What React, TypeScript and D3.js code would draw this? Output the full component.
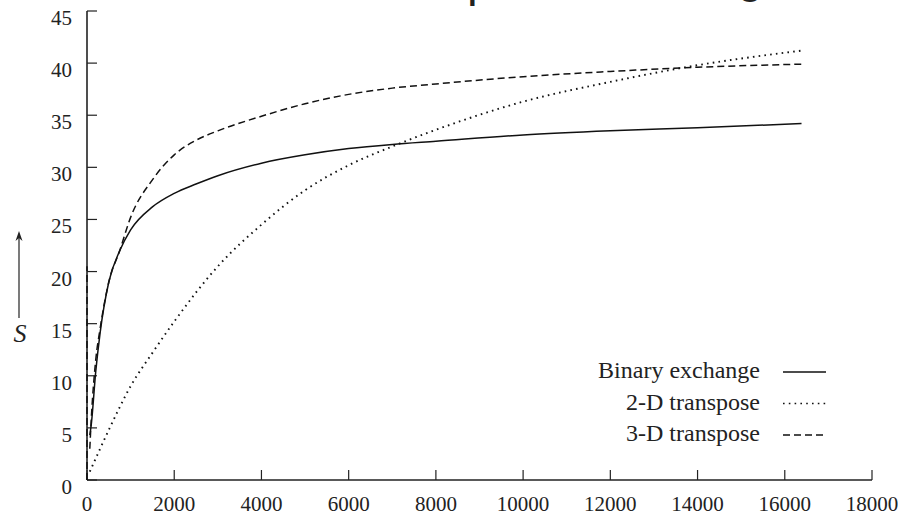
import React from "react";
import * as d3 from "d3";

const xTicks = [0, 2000, 4000, 6000, 8000, 10000, 12000, 14000, 16000, 18000];
const yTicks = [0, 5, 10, 15, 20, 25, 30, 35, 40, 45];

const binaryX = [64, 100, 200, 300, 500, 750, 1000, 1500, 2000, 2500, 3000, 4000, 5000, 6000, 7000, 8000, 10000, 12000, 14000, 16384];
const binaryY = [4.3, 5.4, 10.4, 14.1, 19.0, 22.0, 24.0, 26.2, 27.5, 28.4, 29.2, 30.4, 31.2, 31.8, 32.2, 32.5, 33.1, 33.5, 33.8, 34.2];

const twoDX = [64, 500, 1000, 1500, 2000, 3000, 4000, 5000, 6000, 7000, 8000, 10000, 12000, 14000, 16384];
const twoDY = [0.8, 4.8, 9.0, 12.2, 15.2, 20.5, 24.5, 27.8, 30.2, 32.0, 33.6, 36.3, 38.2, 39.8, 41.2];

const threeDX = [64, 100, 200, 300, 500, 750, 1000, 1500, 2000, 2500, 3000, 4000, 5000, 6000, 7000, 8000, 10000, 12000, 14000, 16384];
const threeDY = [3.0, 6.0, 11.5, 14.5, 19.0, 22.0, 25.2, 28.8, 31.2, 32.6, 33.5, 34.9, 36.1, 37.0, 37.6, 38.0, 38.7, 39.2, 39.6, 39.9];
const threeDStubX = [0, 0];
const threeDStubY = [0, 20.5];

const legendLabels = ["Binary exchange", "2-D transpose", "3-D transpose"];
const dashes = ["none", "1.6 4.2", "7 4"];

const serif = "'Liberation Serif', 'Times New Roman', serif";

export default function App() {
  const x = d3.scaleLinear().domain([0, 18000]).range([87, 872]);
  const y = d3.scaleLinear().domain([0, 45]).range([480, 11]);
  const line = d3
    .line<[number, number]>()
    .x((d) => x(d[0]))
    .y((d) => y(d[1]))
    .curve(d3.curveMonotoneX);
  const lin = d3
    .line<[number, number]>()
    .x((d) => x(d[0]))
    .y((d) => y(d[1]));

  const zip = (a: number[], b: number[]) => a.map((v, i) => [v, b[i]] as [number, number]);
  const series = [
    { d: line(zip(binaryX, binaryY)), dash: dashes[0], w: 1.5 },
    { d: line(zip(twoDX, twoDY)), dash: dashes[1], w: 1.9 },
    { d: line(zip(threeDX, threeDY)), dash: dashes[2], w: 1.5 },
    { d: lin(zip(threeDStubX, threeDStubY)), dash: dashes[2], w: 1.5 },
  ];

  return (
    <svg
      width={898}
      height={520}
      style={{ position: "absolute", left: 0, top: 0, background: "#fff" }}
    >
      <rect width={898} height={520} fill="#fff" />
      {/* remnant of slide title cut off at top */}
      <text x={467} y={-4} fontFamily="'Liberation Sans', Arial, sans-serif" fontSize={48} fill="#222">p</text>
      <text x={737} y={-8} fontFamily="'Liberation Sans', Arial, sans-serif" fontSize={48} fill="#222">g</text>

      {/* axes */}
      <line x1={x(0)} x2={x(0)} y1={y(45)} y2={y(0)} stroke="#222" strokeWidth={1.6} />
      <line x1={x(0)} x2={x(18000)} y1={y(0)} y2={y(0)} stroke="#222" strokeWidth={1.6} />
      {yTicks.map((t) => (
        <g key={"y" + t}>
          <line x1={x(0)} x2={x(0) + 10} y1={y(t)} y2={y(t)} stroke="#222" strokeWidth={1.2} />
          <text
            x={72}
            y={y(t) + 14}
            textAnchor="end"
            fontFamily={serif}
            fontSize={21}
            fill="#222"
          >
            {t}
          </text>
        </g>
      ))}
      {xTicks.map((t) => (
        <g key={"x" + t}>
          <line x1={x(t)} x2={x(t)} y1={y(0)} y2={y(0) - 10} stroke="#222" strokeWidth={1.2} />
          <text
            x={x(t)}
            y={511}
            textAnchor="middle"
            fontFamily={serif}
            fontSize={21}
            fill="#222"
          >
            {t}
          </text>
        </g>
      ))}

      {/* S label with arrow */}
      <line x1={19} x2={19} y1={318} y2={236} stroke="#222" strokeWidth={1.2} />
      <path d="M19,231 L15.5,241 L19,238 L22.5,241 Z" fill="#222" />
      <text x={20} y={342} textAnchor="middle" fontFamily={serif} fontStyle="italic" fontSize={26} fill="#222">
        S
      </text>

      {/* series */}
      {series.map((s, i) => (
        <path
          key={i}
          d={s.d || ""}
          fill="none"
          stroke="#111"
          strokeWidth={s.w}
          strokeDasharray={s.dash}
        />
      ))}

      {/* legend */}
      {legendLabels.map((lab, i) => (
        <g key={lab}>
          <text
            x={760}
            y={378 + i * 31.5}
            textAnchor="end"
            fontFamily={serif}
            fontSize={24}
            fill="#222"
          >
            {lab}
          </text>
          <line
            x1={783}
            x2={826}
            y1={372 + i * 31.5}
            y2={372 + i * 31.5}
            stroke="#111"
            strokeWidth={i === 1 ? 1.7 : 1.3}
            strokeDasharray={dashes[i]}
          />
        </g>
      ))}
    </svg>
  );
}
